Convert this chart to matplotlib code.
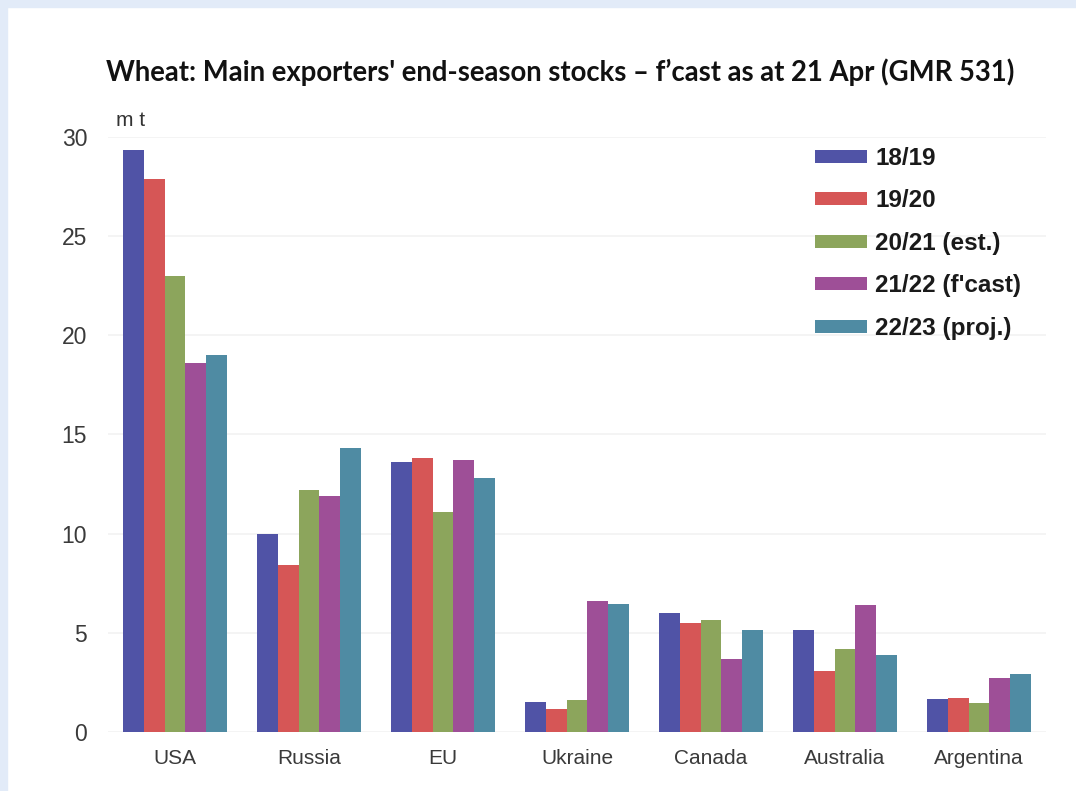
# wheat end-season stocks of the main exporters, grouped bars by season

import numpy as np
import matplotlib.pyplot as plt
from matplotlib.patches import Rectangle

countries = ['USA', 'Russia', 'EU', 'Ukraine', 'Canada', 'Australia', 'Argentina']
seasons = ['18/19', '19/20', '20/21 (est.)', "21/22 (f'cast)", '22/23 (proj.)']

s1819 = [29.35, 10.0, 13.6, 1.5, 6.0, 5.15, 1.65]
s1920 = [27.9, 8.4, 13.8, 1.15, 5.5, 3.1, 1.7]
s2021 = [23.0, 12.2, 11.1, 1.6, 5.65, 4.2, 1.45]
s2122 = [18.6, 11.9, 13.7, 6.6, 3.7, 6.4, 2.7]
s2223 = [19.0, 14.3, 12.8, 6.45, 5.15, 3.9, 2.9]

colors = ['#5053a6', '#d65656', '#8ca55c', '#9e4f97', '#4f8ba3']

fig = plt.figure(figsize=(10.76, 7.91), dpi=100)
fig.patch.set_facecolor('white')

# pale blue frame along the top and left edges
fig.patches.append(Rectangle((0, 0), 7 / 1076, 1, transform=fig.transFigure,
                             color='#e2ebf8', zorder=0))
fig.patches.append(Rectangle((0, 1 - 7 / 791), 1, 7 / 791, transform=fig.transFigure,
                             color='#e2ebf8', zorder=0))

ax = fig.add_axes([0.1004, 0.0746, 0.8717, 0.7522])

x = np.arange(len(countries))
w = 0.156
series = [s1819, s1920, s2021, s2122, s2223]
for k, vals in enumerate(series):
    ax.bar(x + (k - 2) * w, vals, w, color=colors[k], label=seasons[k], zorder=2)

ax.set_xlim(-0.5, len(countries) - 0.5)
ax.set_ylim(0, 30)
ax.set_yticks([0, 5, 10, 15, 20, 25, 30])
ax.set_xticks(x)
ax.set_xticklabels(countries)
ax.grid(axis='y', color='#f2f2f2', lw=1.2, zorder=0)
for s in ax.spines.values():
    s.set_visible(False)
ax.tick_params(length=0, colors='#333333', labelcolor='#3a3a3a')
ax.tick_params(axis='y', labelsize=16.5, pad=15)
ax.tick_params(axis='x', labelsize=15, pad=12)
for t in ax.get_xticklabels() + ax.get_yticklabels():
    t.set_family('Liberation Sans')

ax.text(0.009, 1.012, 'm t', transform=ax.transAxes, fontsize=15,
        family='Liberation Sans', color='#333333', va='bottom')

fig.text(0.521, 0.909, "Wheat: Main exporters' end-season stocks \u2013 f\u2019cast as at 21 Apr (GMR 531)",
         ha='center', va='center', fontsize=19.8, fontweight='bold',
         family='Lato', color='#111111')

leg = ax.legend(loc='upper right', bbox_to_anchor=(0.997, 1.02), frameon=False,
                prop={'family': 'Liberation Sans', 'weight': 'bold', 'size': 17.5},
                handlelength=2.15, handleheight=0.45, handletextpad=0.33,
                labelspacing=0.8, labelcolor='#1a1a1a')

fig.savefig('out.png', dpi=100)
